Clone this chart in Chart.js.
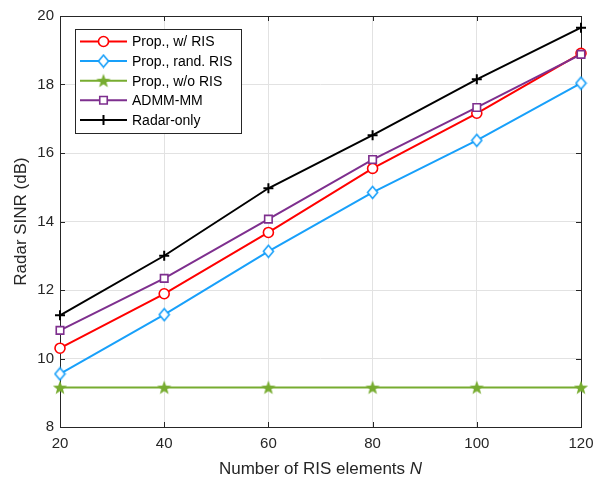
<!DOCTYPE html>
<html>
<head>
<meta charset="utf-8">
<script src="https://cdn.jsdelivr.net/npm/chart.js@4/dist/chart.umd.min.js"></script>
<style>
  html, body { margin: 0; padding: 0; background: #fff; }
  #wrap { width: 597px; height: 478px; position: relative; }
</style>
</head>
<body>
<div id="wrap"><canvas id="sinrChart" width="597" height="478"></canvas></div>
<script>
// ---- data ----
const numElements = [20, 40, 60, 80, 100, 120];
const propWithRis = [10.30, 11.89, 13.68, 15.55, 17.16, 18.91];
const propRandRis = [9.55, 11.28, 13.13, 14.85, 16.37, 18.04];
const propNoRis = [9.15, 9.15, 9.15, 9.15, 9.15, 9.15];
const admmMm = [10.82, 12.34, 14.07, 15.81, 17.33, 18.88];
const radarOnly = [11.26, 13.00, 14.97, 16.52, 18.15, 19.66];
const yTicks = [8, 10, 12, 14, 16, 18, 20];
const seriesNames = ['Prop., w/ RIS', 'Prop., rand. RIS', 'Prop., w/o RIS', 'ADMM-MM', 'Radar-only'];

const FONT = "'Liberation Sans', Arial, Helvetica, sans-serif";
const AXIS_COLOR = '#262626';

// ---- custom markers ----
function makeDiamond(color) {
    const c = document.createElement('canvas');
    c.width = 13; c.height = 15;
    const g = c.getContext('2d');
    g.beginPath();
    g.moveTo(6.5, 1.5); g.lineTo(11.5, 7.5); g.lineTo(6.5, 13.5); g.lineTo(1.5, 7.5);
    g.closePath();
    g.fillStyle = '#fff';
    g.fill();
    g.lineWidth = 1.6;
    g.strokeStyle = color;
    g.stroke();
    return c;
}

function makeStar(color) {
    const c = document.createElement('canvas');
    c.width = 16; c.height = 16;
    const g = c.getContext('2d');
    const cx = 8, cy = 8.5, ro = 7.5, ri = 3.1;
    g.beginPath();
    for (let i = 0; i < 10; i++) {
        const r = i % 2 === 0 ? ro : ri;
        const a = -Math.PI / 2 + i * Math.PI / 5;
        const px = cx + r * Math.cos(a), py = cy + r * Math.sin(a);
        if (i === 0) g.moveTo(px, py); else g.lineTo(px, py);
    }
    g.closePath();
    g.fillStyle = color;
    g.fill();
    return c;
}

const colors = ['#ff0000', '#18a0fa', '#77ac30', '#7e2f8e', '#000000'];
const markers = [
    { pointStyle: 'circle', radius: 5, bg: '#fff' },
    { pointStyle: makeDiamond(colors[1]), radius: 6, bg: '#fff' },
    { pointStyle: makeStar(colors[2]), radius: 7, bg: colors[2] },
    { pointStyle: 'rect', radius: 5.3, bg: '#fff' },
    { pointStyle: 'cross', radius: 5, bg: '#000' }
];
const seriesValues = [propWithRis, propRandRis, propNoRis, admmMm, radarOnly];

const datasets = seriesValues.map(function(vals, i) {
    return {
        label: seriesNames[i],
        data: numElements.map(function(n, j) { return { x: n, y: vals[j] }; }),
        borderColor: colors[i],
        backgroundColor: markers[i].bg,
        pointStyle: markers[i].pointStyle,
        pointRadius: markers[i].radius,
        pointHoverRadius: markers[i].radius,
        pointBorderColor: colors[i],
        pointBackgroundColor: markers[i].bg,
        pointBorderWidth: i === 4 ? 2 : 1.6,
        borderWidth: 2,
        tension: 0,
        clip: false,
        order: 5 - i
    };
});

// ---- box, inward ticks, axis titles, legend ----
const matlabFrame = {
    id: 'matlabFrame',
    beforeDatasetsDraw(chart) {
        const ctx = chart.ctx;
        const a = chart.chartArea;
        const xs = chart.scales.x, ys = chart.scales.y;
        ctx.save();
        ctx.strokeStyle = AXIS_COLOR;
        ctx.lineWidth = 1;
        ctx.strokeRect(a.left + 0.5, a.top + 0.5, a.right - a.left, a.bottom - a.top);
        ctx.beginPath();
        numElements.forEach(function(n) {
            const px = Math.round(xs.getPixelForValue(n)) + 0.5;
            ctx.moveTo(px, a.bottom); ctx.lineTo(px, a.bottom - 5);
            ctx.moveTo(px, a.top); ctx.lineTo(px, a.top + 5);
        });
        yTicks.forEach(function(v) {
            const py = Math.round(ys.getPixelForValue(v)) + 0.5;
            ctx.moveTo(a.left, py); ctx.lineTo(a.left + 5, py);
            ctx.moveTo(a.right, py); ctx.lineTo(a.right - 5, py);
        });
        ctx.stroke();
        ctx.restore();
    },
    afterDraw(chart) {
        const ctx = chart.ctx;
        const a = chart.chartArea;
        ctx.save();
        // axis titles
        ctx.fillStyle = AXIS_COLOR;
        ctx.textBaseline = 'alphabetic';
        const part1 = 'Number of RIS elements ';
        ctx.font = '17px ' + FONT;
        const w1 = ctx.measureText(part1).width;
        ctx.font = 'italic 17px ' + FONT;
        const w2 = ctx.measureText('N').width;
        const cx = (a.left + a.right) / 2;
        const sx = cx - (w1 + w2) / 2;
        ctx.font = '17px ' + FONT;
        ctx.textAlign = 'left';
        ctx.fillText(part1, sx, 474);
        ctx.font = 'italic 17px ' + FONT;
        ctx.fillText('N', sx + w1, 474);

        ctx.save();
        ctx.translate(26, (a.top + a.bottom) / 2);
        ctx.rotate(-Math.PI / 2);
        ctx.font = '17px ' + FONT;
        ctx.textAlign = 'center';
        ctx.fillText('Radar SINR (dB)', 0, 0);
        ctx.restore();

        // legend box
        const lx = 75, ly = 29, lw = 166, lh = 104;
        ctx.fillStyle = '#fff';
        ctx.fillRect(lx, ly, lw, lh);
        ctx.strokeStyle = AXIS_COLOR;
        ctx.lineWidth = 1;
        ctx.strokeRect(lx + 0.5, ly + 0.5, lw, lh);
        ctx.font = '14px ' + FONT;
        ctx.textAlign = 'left';
        ctx.textBaseline = 'middle';
        chart.data.datasets.forEach(function(ds, i) {
            const yy = 41.5 + i * 19.6;
            ctx.strokeStyle = ds.borderColor;
            ctx.lineWidth = 2;
            ctx.beginPath();
            ctx.moveTo(80, yy); ctx.lineTo(127, yy);
            ctx.stroke();
            ctx.fillStyle = ds.pointBackgroundColor;
            ctx.strokeStyle = ds.pointBorderColor;
            ctx.lineWidth = ds.pointBorderWidth;
            Chart.helpers.drawPoint(ctx, {
                pointStyle: ds.pointStyle,
                radius: ds.pointRadius,
                rotation: 0,
                borderWidth: ds.pointBorderWidth
            }, 103.5, yy);
            ctx.fillStyle = '#000';
            ctx.fillText(ds.label, 132, yy + 1);
        });
        ctx.restore();
    }
};

const sinrChart = new Chart(document.getElementById('sinrChart').getContext('2d'), {
    type: 'line',
    data: { datasets: datasets },
    options: {
        responsive: false,
        animation: false,
        events: [],
        layout: { padding: { left: 0, right: 16, top: 16, bottom: 0 } },
        plugins: {
            legend: { display: false },
            tooltip: { enabled: false }
        },
        scales: {
            x: {
                type: 'linear',
                min: 20,
                max: 120,
                afterFit: function(scale) {
                    scale.height = 51;
                    scale.paddingLeft = 0;
                    scale.paddingRight = 0;
                },
                afterBuildTicks: function(scale) {
                    scale.ticks = numElements.map(function(v) { return { value: v }; });
                },
                grid: { color: '#e2e2e2', drawTicks: false },
                border: { display: false },
                ticks: {
                    padding: 8,
                    color: AXIS_COLOR,
                    font: { family: FONT, size: 15 },
                    maxRotation: 0
                }
            },
            y: {
                min: 8,
                max: 20,
                afterFit: function(scale) {
                    scale.width = 60;
                    scale.paddingTop = 0;
                    scale.paddingBottom = 0;
                },
                afterBuildTicks: function(scale) {
                    scale.ticks = yTicks.map(function(v) { return { value: v }; });
                },
                grid: { color: '#e2e2e2', drawTicks: false },
                border: { display: false },
                ticks: {
                    padding: 6,
                    color: AXIS_COLOR,
                    font: { family: FONT, size: 15 }
                }
            }
        }
    },
    plugins: [matlabFrame]
});
</script>
</body>
</html>
